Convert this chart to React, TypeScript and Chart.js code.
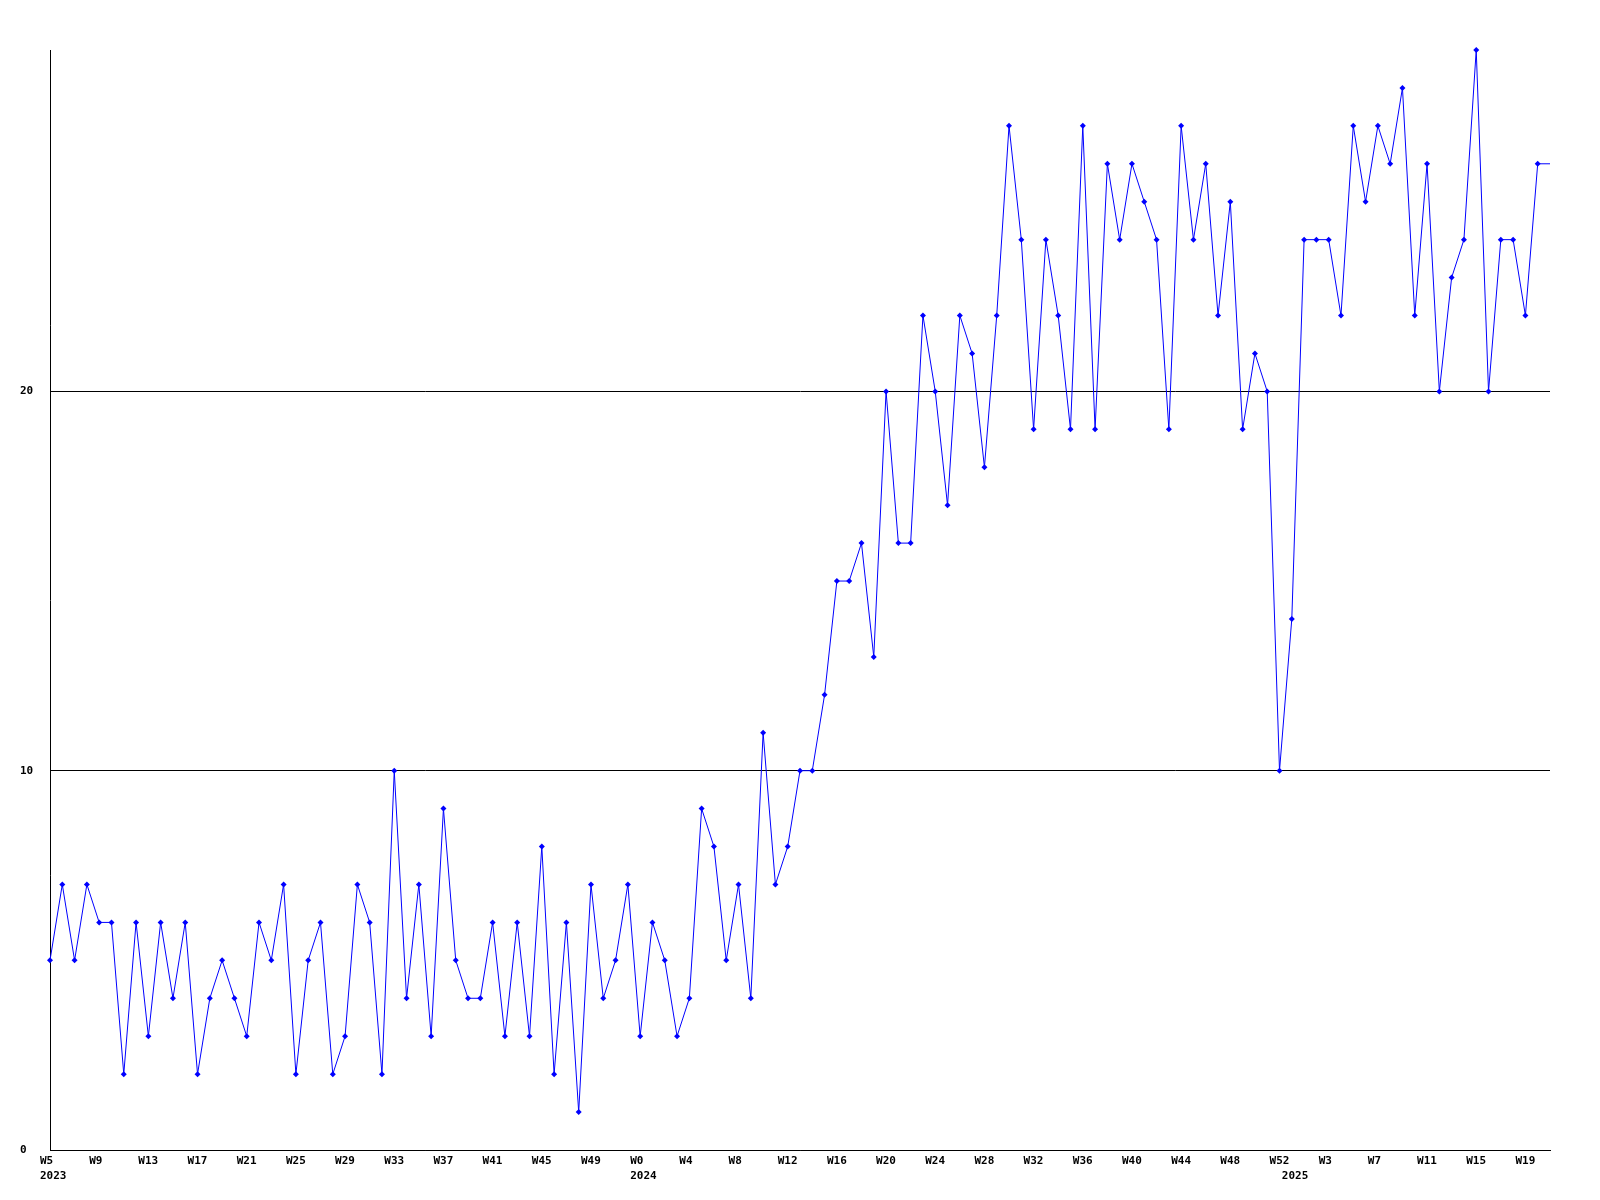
import React, { useEffect, useRef } from 'react';
import { Chart, registerables } from 'chart.js';

Chart.register(...registerables);

// Week ranges per year (first and last week number shown)
const YEARS = [2023, 2024, 2025];
const FIRST_WEEK = [5, 0, 0];
const LAST_WEEK = [52, 52, 21];

// Weekly values per year
const values2023 = [5, 7, 5, 7, 6, 6, 2, 6, 3, 6, 4, 6, 2, 4, 5, 4, 3, 6, 5, 7, 2, 5, 6, 2, 3, 7, 6, 2, 10, 4, 7, 3, 9, 5, 4, 4, 6, 3, 6, 3, 8, 2, 6, 1, 7, 4, 5, 7];
const values2024 = [3, 6, 5, 3, 4, 9, 8, 5, 7, 4, 11, 7, 8, 10, 10, 12, 15, 15, 16, 13, 20, 16, 16, 22, 20, 17, 22, 21, 18, 22, 27, 24, 19, 24, 22, 19, 27, 19, 26, 24, 26, 25, 24, 19, 27, 24, 26, 22, 25, 19, 21, 20, 10];
const values2025 = [14, 24, 24, 24, 22, 27, 25, 27, 26, 28, 22, 26, 20, 23, 24, 29, 20, 24, 24, 22, 26, 26];

const Y_TICKS = [0, 10, 20];
const Y_MAX = 29;
const LABEL_EVERY = 4;

const categories: { week: number; year: number; yearStart: boolean }[] = [];
YEARS.forEach((year, yi) => {
  for (let w = FIRST_WEEK[yi]; w <= LAST_WEEK[yi]; w++) {
    categories.push({ week: w, year, yearStart: w === FIRST_WEEK[yi] });
  }
});
const labels = categories.map((c) => `W${c.week}`);
const values = [...values2023, ...values2024, ...values2025];

const FONT = { family: '"DejaVu Sans Mono", monospace', size: 11, weight: 'bold' as const, lineHeight: 15 / 11 };

export default function App() {
  const ref = useRef<HTMLCanvasElement | null>(null);

  useEffect(() => {
    if (!ref.current) return;
    const last = values.length - 1;
    const chart = new Chart(ref.current, {
      type: 'line',
      data: {
        labels,
        datasets: [
          {
            data: values,
            borderColor: '#0000ff',
            backgroundColor: '#0000ff',
            borderWidth: 1,
            tension: 0,
            fill: false,
            clip: { left: 5, top: 6, right: 0, bottom: 5 },
            pointStyle: 'rectRot',
            pointRadius: (ctx: any) => (ctx.dataIndex === last ? 0 : 3),
            pointBorderWidth: 0,
            pointBackgroundColor: '#0000ff',
          },
        ],
      },
      options: {
        responsive: false,
        animation: false,
        devicePixelRatio: 1,
        layout: { padding: { top: 50, left: 20, right: 50, bottom: 0 } },
        plugins: { legend: { display: false }, tooltip: { enabled: false } },
        scales: {
          x: {
            type: 'category',
            offset: false,
            grid: { display: false, drawTicks: false, tickLength: 0 },
            border: { display: true, color: '#000', width: 1 },
            ticks: {
              autoSkip: false,
              maxRotation: 0,
              minRotation: 0,
              align: 'start',
              labelOffset: -10,
              padding: 4,
              color: '#000',
              font: FONT,
              callback: (_v: any, i: number) => {
                const c = categories[i];
                const showWeek = i % LABEL_EVERY === 0;
                if (c.yearStart) return [showWeek ? labels[i] : '', String(c.year)];
                return showWeek ? labels[i] : '';
              },
            },
            afterFit: (scale: any) => {
              scale.height = 50;
            },
          },
          y: {
            min: 0,
            max: Y_MAX,
            grid: { display: true, color: '#000', lineWidth: 1, drawTicks: false, tickLength: 0 },
            border: { display: true, color: '#000', width: 1 },
            ticks: {
              includeBounds: false,
              crossAlign: 'far',
              color: '#000',
              font: FONT,
              padding: 0,
            },
            afterBuildTicks: (axis: any) => {
              axis.ticks = Y_TICKS.map((v) => ({ value: v }));
            },
            afterFit: (scale: any) => {
              scale.width = 30;
            },
          },
        },
      },
    } as any);
    return () => chart.destroy();
  }, []);

  return (
    <div style={{ position: 'absolute', left: 0, top: 0, width: 1600, height: 1200, background: '#fff' }}>
      <canvas ref={ref} width={1600} height={1200} style={{ display: 'block', width: 1600, height: 1200 }} />
    </div>
  );
}
